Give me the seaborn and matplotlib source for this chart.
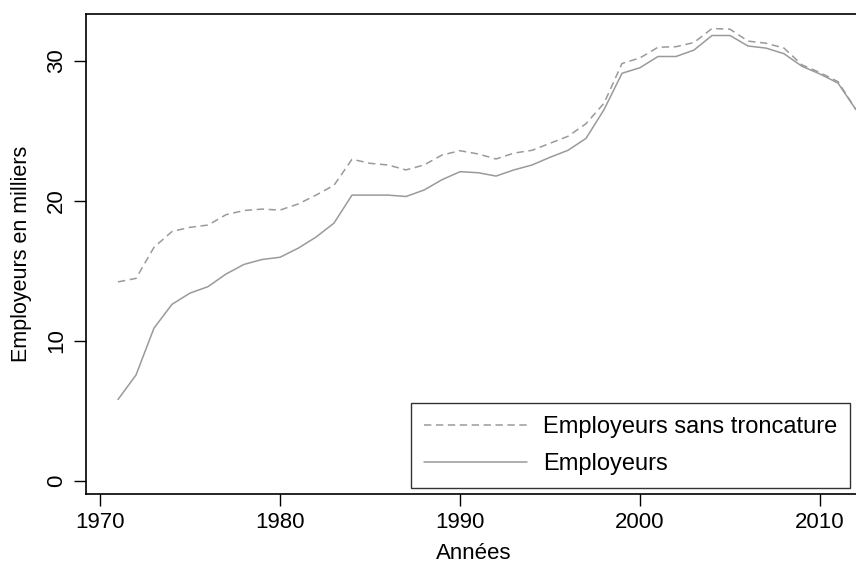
import numpy as np
import pandas as pd
import matplotlib
matplotlib.use("Agg")
import matplotlib.pyplot as plt
import seaborn as sns

# Employers (thousands)
years = list(range(1971, 2013))
employeurs = [5.8, 7.55, 10.9, 12.6, 13.4, 13.86, 14.76, 15.45, 15.8, 15.96,
              16.6, 17.4, 18.4, 20.4, 20.4, 20.4, 20.3, 20.76, 21.5, 22.07,
              22.0, 21.76, 22.2, 22.55, 23.1, 23.6, 24.45, 26.5, 29.1, 29.5,
              30.3, 30.3, 30.76, 31.8, 31.8, 31.05, 30.9, 30.5, 29.6, 29.05,
              28.4, 26.5]
sans_troncature = [14.2, 14.45, 16.67, 17.8, 18.1, 18.26, 19.0, 19.3, 19.4, 19.33,
                   19.76, 20.4, 21.1, 22.96, 22.67, 22.55, 22.2, 22.55, 23.26, 23.57,
                   23.34, 22.98, 23.4, 23.6, 24.1, 24.6, 25.5, 26.96, 29.8, 30.2,
                   30.96, 31.0, 31.3, 32.3, 32.25, 31.4, 31.25, 30.9, 29.7, 29.15,
                   28.5, 26.5]

df = pd.DataFrame({"annee": years, "emp": employeurs, "sans": sans_troncature})

sns.set_style("white")
plt.rcParams["font.family"] = ["Liberation Sans", "DejaVu Sans"]
plt.rcParams["text.color"] = "black"
plt.rcParams["axes.labelcolor"] = "black"
plt.rcParams["xtick.color"] = "black"
plt.rcParams["ytick.color"] = "black"

fig = plt.figure(figsize=(8.56, 5.66), dpi=100)
W, H = 856, 566
ax = fig.add_axes([86 / W, 1 - 493.5 / H, (861 - 86) / W, (493.5 - 14) / H])

grey = "#9a9a9a"
sns.lineplot(data=df, x="annee", y="sans", ax=ax, color=grey, lw=1.1,
             label="Employeurs sans troncature", dashes=False)
ax.lines[-1].set_dashes((4.8, 3))
sns.lineplot(data=df, x="annee", y="emp", ax=ax, color=grey, lw=1.1,
             label="Employeurs")

# axes ranges / ticks
x0 = 1970 - (100 - 86) / 18
x1 = 1970 + (861 - 100) / 18
ax.set_xlim(x0, x1)
ax.set_ylim(-(493.5 - 480.7) / 14, (480.7 - 14) / 14)
ax.set_xticks([1970, 1980, 1990, 2000, 2010])
ax.set_yticks([0, 10, 20, 30])
ax.tick_params(axis="both", direction="out", length=8.5, width=1, color="black",
               labelsize=16, labelcolor="black", bottom=True, left=True)
ax.tick_params(axis="x", pad=5)
ax.tick_params(axis="y", pad=5)
for lbl in ax.get_yticklabels():
    lbl.set_rotation(90)
    lbl.set_va("center")

for s in ax.spines.values():
    s.set_color("black")
    s.set_linewidth(1.2)

ax.set_xlabel("Années", fontsize=16, labelpad=7, color="black")
ax.set_ylabel("Employeurs en milliers", fontsize=15.5, labelpad=10, color="black")

leg = ax.legend(loc="lower left", bbox_to_anchor=(411 / W, 1 - 488 / H),
                bbox_transform=fig.transFigure, borderaxespad=0, fontsize=17,
                frameon=True, fancybox=False, edgecolor="black", handlelength=4.36,
                handletextpad=0.68, borderpad=0.55, labelspacing=0.62)
leg.get_frame().set_linewidth(1.0)
for t in leg.get_texts():
    t.set_color("black")

fig.savefig("out.png", dpi=100)
